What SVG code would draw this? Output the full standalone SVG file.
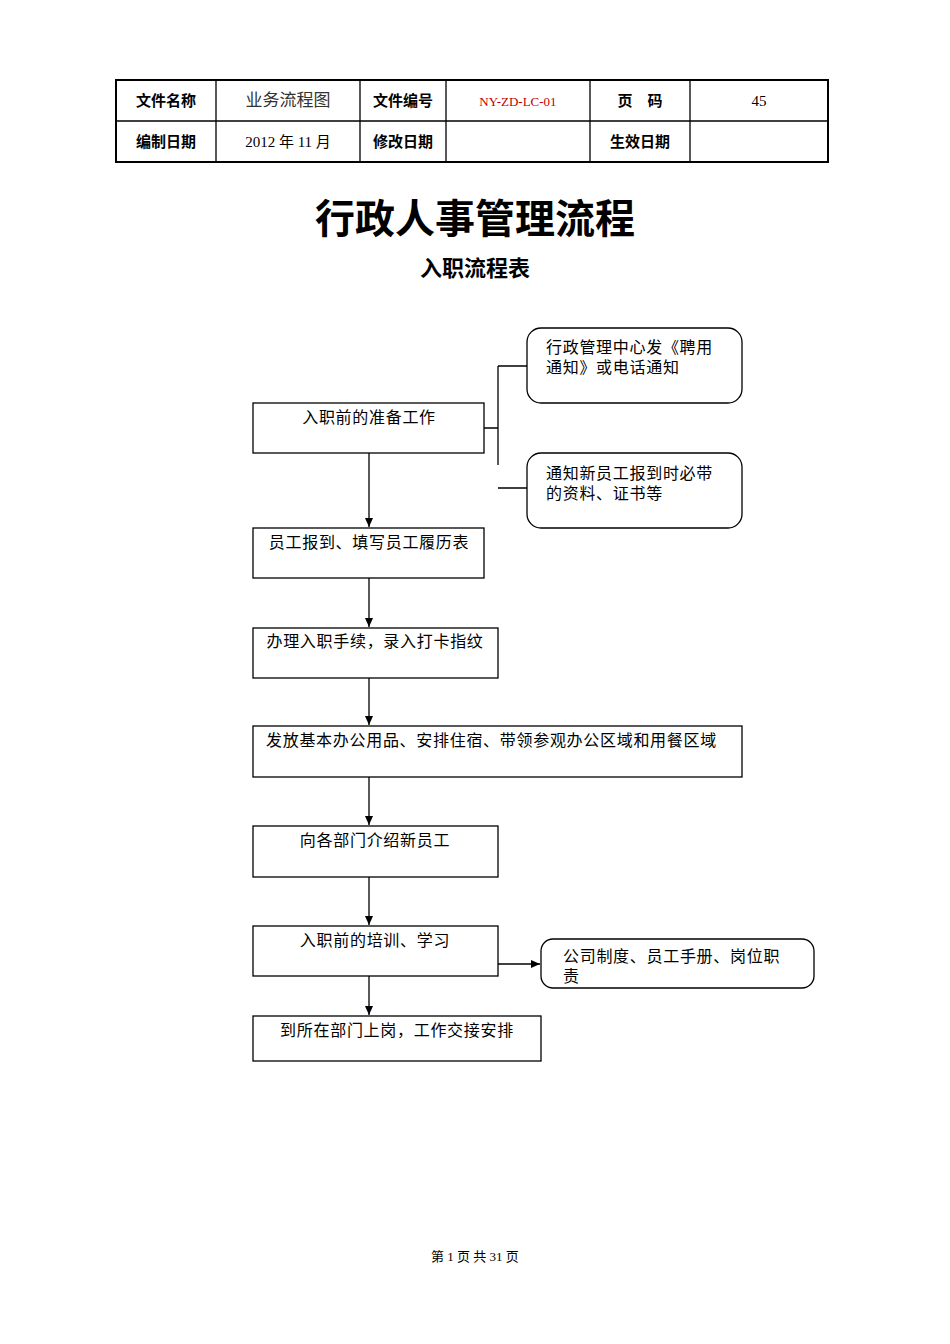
<svg xmlns="http://www.w3.org/2000/svg" width="950" height="1344" viewBox="0 0 950 1344">
<style>
text{font-family:"Liberation Serif","Noto Sans CJK SC",serif;fill:#000}
.t{font-size:16px;letter-spacing:0.7px}
.h{font-size:15px;font-weight:bold}
.b{fill:#fff;stroke:#000;stroke-width:1.3}
.l{stroke:#000;stroke-width:1.3;fill:none}
</style>
<defs><marker id="a" markerWidth="10" markerHeight="10" refX="9" refY="5" orient="auto" markerUnits="userSpaceOnUse"><path d="M0,1 L9,5 L0,9 Z" fill="#000"/></marker></defs>
<rect width="950" height="1344" fill="#fff"/>
<g id="header">
<rect x="116" y="80" width="712" height="82" fill="none" stroke="#000" stroke-width="2"/>
<path class="l" d="M116,121H828M216,80V162M360,80V162M446,80V162M590,80V162M690,80V162"/>
<g text-anchor="middle">
<text class="h" x="166" y="106">文件名称</text>
<text x="288" y="106" style="font-size:17px;fill:#333">业务流程图</text>
<text class="h" x="403" y="106">文件编号</text>
<text x="518" y="106" style="font-size:13px;fill:#c00000">NY-ZD-LC-01</text>
<text class="h" x="640" y="106">页　码</text>
<text x="759" y="106" style="font-size:15px">45</text>
<text class="h" x="166" y="147">编制日期</text>
<text x="288" y="147" style="font-size:15px">2012 年 11 月</text>
<text class="h" x="403" y="147">修改日期</text>
<text class="h" x="640" y="147">生效日期</text>
</g>
</g>
<text x="475" y="233" text-anchor="middle" style="font-size:40px;font-weight:bold">行政人事管理流程</text>
<text x="475" y="276" text-anchor="middle" style="font-size:22px;font-weight:bold">入职流程表</text>
<g id="n1"><rect class="b" x="253" y="403" width="231" height="50"/><text class="t" x="369" y="423" text-anchor="middle">入职前的准备工作</text></g>
<g id="n1a"><rect class="b" x="527" y="328" width="215" height="75" rx="14"/><text class="t" x="546" y="353">行政管理中心发《聘用</text><text class="t" x="546" y="373">通知》或电话通知</text></g>
<g id="n1b"><rect class="b" x="527" y="453" width="215" height="75" rx="14"/><text class="t" x="546" y="479">通知新员工报到时必带</text><text class="t" x="546" y="499">的资料、证书等</text></g>
<g id="n2"><rect class="b" x="253" y="528" width="231" height="50"/><text class="t" x="369" y="548" text-anchor="middle">员工报到、填写员工履历表</text></g>
<g id="n3"><rect class="b" x="253" y="628" width="245" height="50"/><text class="t" x="375" y="647" text-anchor="middle">办理入职手续，录入打卡指纹</text></g>
<g id="n4"><rect class="b" x="253" y="726" width="489" height="51"/><text class="t" x="266" y="746">发放基本办公用品、安排住宿、带领参观办公区域和用餐区域</text></g>
<g id="n5"><rect class="b" x="253" y="826" width="245" height="51"/><text class="t" x="375" y="846" text-anchor="middle">向各部门介绍新员工</text></g>
<g id="n6"><rect class="b" x="253" y="926" width="245" height="50"/><text class="t" x="375" y="946" text-anchor="middle">入职前的培训、学习</text></g>
<g id="n6a"><rect class="b" x="541" y="939" width="273" height="49" rx="12"/><text class="t" x="563" y="962">公司制度、员工手册、岗位职</text><text class="t" x="563" y="982">责</text></g>
<g id="n7"><rect class="b" x="253" y="1016" width="288" height="45"/><text class="t" x="397" y="1036" text-anchor="middle">到所在部门上岗，工作交接安排</text></g>
<g id="connectors">
<path class="l" d="M484,428H498M498,366V465M498,366H527M498,488H527"/>
<path class="l" marker-end="url(#a)" d="M369,453V527"/>
<path class="l" marker-end="url(#a)" d="M369,578V627"/>
<path class="l" marker-end="url(#a)" d="M369,678V725"/>
<path class="l" marker-end="url(#a)" d="M369,777V825"/>
<path class="l" marker-end="url(#a)" d="M369,877V925"/>
<path class="l" marker-end="url(#a)" d="M369,976V1015"/>
<path class="l" marker-end="url(#a)" d="M498,964H540"/>
</g>
<text x="475" y="1261" text-anchor="middle" style="font-size:13px">第 1 页 共 31 页</text>
</svg>
